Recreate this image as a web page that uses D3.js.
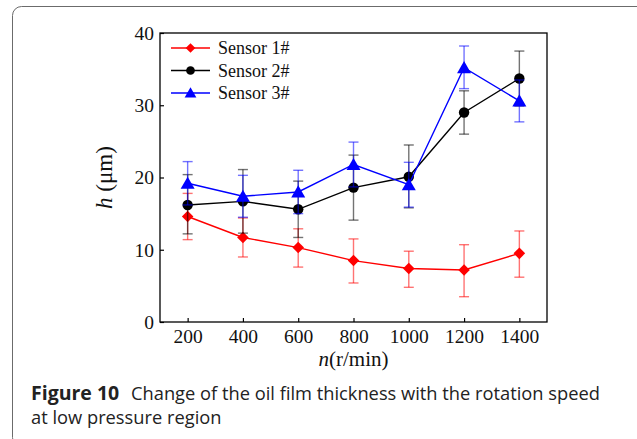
<!DOCTYPE html>
<html>
<head>
<meta charset="utf-8">
<script src="https://cdn.jsdelivr.net/npm/d3@7"></script>
<style>
  body { margin: 0; background: #fff; }
</style>
</head>
<body>
<div id="chart"></div>
<script>
const width = 637,
    height = 439
const margin = {
    top: 33,
    right: 90,
    bottom: 117,
    left: 160
}

// data
const speeds = [200, 400, 600, 800, 1000, 1200, 1400]
const sensor1 = [14.6, 11.7, 10.3, 8.5, 7.4, 7.2, 9.5]
const sensor1Hi = [17.8, 14.4, 12.9, 11.5, 9.8, 10.7, 12.6]
const sensor1Lo = [11.4, 9.0, 7.6, 5.4, 4.8, 3.5, 6.2]
const sensor2 = [16.2, 16.7, 15.6, 18.6, 20.1, 29.0, 33.7]
const sensor2Hi = [20.4, 21.1, 19.5, 23.1, 24.5, 32.0, 37.5]
const sensor2Lo = [12.2, 12.3, 11.7, 14.1, 15.8, 26.0, 29.9]
const sensor3 = [19.2, 17.4, 18.0, 21.8, 19.0, 35.2, 30.6]
const sensor3Hi = [22.2, 20.3, 21.0, 24.9, 22.1, 38.2, 33.5]
const sensor3Lo = [16.2, 14.5, 15.0, 18.7, 15.9, 32.3, 27.7]
const seriesNames = ['Sensor 1#', 'Sensor 2#', 'Sensor 3#']
const seriesColor = ['#ff0000', '#000000', '#0000ff']
const seriesShape = [d3.symbolDiamond2, d3.symbolCircle, d3.symbolTriangle]
const yTicks = [0, 10, 20, 30, 40]

const series = [
    {name: seriesNames[0], v: sensor1, hi: sensor1Hi, lo: sensor1Lo},
    {name: seriesNames[1], v: sensor2, hi: sensor2Hi, lo: sensor2Lo},
    {name: seriesNames[2], v: sensor3, hi: sensor3Hi, lo: sensor3Lo}
]

const svg = d3.select('#chart')
    .append('svg')
    .attr('width', width)
    .attr('height', height)

// card frame
svg.append('rect')
    .attr('x', 12.5).attr('y', 6.5)
    .attr('width', 640).attr('height', 440)
    .attr('rx', 9)
    .attr('fill', 'none')
    .attr('stroke', '#6b6b6b')
    .attr('stroke-width', 1)

const x = d3.scaleLinear()
    .domain([100, 1500])
    .range([margin.left, width - margin.right])

const y = d3.scaleLinear()
    .domain([0, 40])
    .range([height - margin.bottom, margin.top])

const serif = '"Liberation Serif", "Times New Roman", serif'

// plot frame
svg.append('rect')
    .attr('x', margin.left)
    .attr('y', margin.top)
    .attr('width', x.range()[1] - margin.left)
    .attr('height', y(0) - margin.top)
    .attr('fill', 'none')
    .attr('stroke', '#000')
    .attr('stroke-width', 1.3)

// ticks point inward, labels sit outside
const xAxis = svg.append('g')
    .attr('transform', 'translate(0,' + y(0) + ')')
    .call(d3.axisBottom(x).tickValues(speeds).tickFormat(d3.format('d')).tickSizeInner(-4).tickPadding(7))
xAxis.select('.domain').remove()

const yAxis = svg.append('g')
    .attr('transform', 'translate(' + margin.left + ',0)')
    .call(d3.axisLeft(y).tickValues(yTicks).tickSizeInner(-4).tickPadding(6))
yAxis.select('.domain').remove()

svg.selectAll('.tick text')
    .attr('font-family', serif)
    .attr('font-size', 19.5)
    .attr('fill', '#111')
svg.selectAll('.tick line').attr('stroke', '#000').attr('stroke-width', 1.2)

// axis titles
svg.append('text')
    .attr('transform', 'translate(112,' + ((margin.top + y(0)) / 2) + ') rotate(-90)')
    .attr('text-anchor', 'middle')
    .attr('font-family', serif)
    .attr('font-size', 23)
    .attr('fill', '#111')
    .html('<tspan font-style="italic">h</tspan> (μm)')

svg.append('text')
    .attr('x', (margin.left + x.range()[1]) / 2)
    .attr('y', 366)
    .attr('text-anchor', 'middle')
    .attr('font-family', serif)
    .attr('font-size', 21)
    .attr('fill', '#111')
    .html('<tspan font-style="italic">n</tspan>(r/min)')

const line = d3.line()
    .x(function (d, i) { return x(speeds[i]) })
    .y(function (d) { return y(d) })

const groups = svg.append('g').selectAll('g')
    .data(series)
    .enter().append('g')

// error bars
groups.each(function (s, k) {
    const g = d3.select(this)
    const c = seriesColor[k]
    speeds.forEach(function (sp, i) {
        const cx = x(sp)
        g.append('line')
            .attr('x1', cx).attr('x2', cx)
            .attr('y1', y(s.hi[i])).attr('y2', y(s.lo[i]))
            .attr('stroke', c).attr('stroke-opacity', 0.55).attr('stroke-width', 1.4)
        ;[s.hi[i], s.lo[i]].forEach(function (e) {
            g.append('line')
                .attr('x1', cx - 5).attr('x2', cx + 5)
                .attr('y1', y(e)).attr('y2', y(e))
                .attr('stroke', c).attr('stroke-opacity', 0.55).attr('stroke-width', 1.4)
        })
    })
})

groups.append('path')
    .attr('d', function (s) { return line(s.v) })
    .attr('fill', 'none')
    .attr('stroke', function (s, k) { return seriesColor[k] })
    .attr('stroke-width', 1.4)

groups.each(function (s, k) {
    const sym = d3.symbol().type(seriesShape[k]).size(k === 2 ? 85 : 85)
    d3.select(this).selectAll('path.pt')
        .data(s.v)
        .enter().append('path')
        .attr('class', 'pt')
        .attr('d', sym)
        .attr('transform', function (d, i) {
            return 'translate(' + x(speeds[i]) + ',' + (y(d) + (k === 2 ? 1.5 : 0)) + ')'
        })
        .attr('fill', seriesColor[k])
})

// legend
const legend = svg.append('g')
seriesNames.forEach(function (name, k) {
    const ly = 48 + k * 22.5
    legend.append('line')
        .attr('x1', 171).attr('x2', 210)
        .attr('y1', ly).attr('y2', ly)
        .attr('stroke', seriesColor[k]).attr('stroke-width', 1.4)
    legend.append('path')
        .attr('d', d3.symbol().type(seriesShape[k]).size(60))
        .attr('transform', 'translate(190.5,' + (ly + (k === 2 ? 1 : 0)) + ')')
        .attr('fill', seriesColor[k])
    legend.append('text')
        .attr('x', 218).attr('y', ly + 6)
        .attr('font-family', serif)
        .attr('font-size', 18)
        .attr('fill', '#111')
        .text(name)
})

// caption
const capFont = '"Open Sans", "Noto Sans", sans-serif'
svg.append('text')
    .attr('x', 31).attr('y', 400)
    .attr('font-family', capFont)
    .attr('font-size', 19.5)
    .attr('font-weight', 'bold')
    .attr('fill', '#222')
    .text('Figure 10')
svg.append('text')
    .attr('x', 131).attr('y', 400)
    .attr('font-family', capFont)
    .attr('font-size', 18.3)
    .attr('fill', '#222')
    .text('Change of the oil film thickness with the rotation speed')
svg.append('text')
    .attr('x', 31).attr('y', 424)
    .attr('font-family', capFont)
    .attr('font-size', 18.3)
    .attr('fill', '#222')
    .text('at low pressure region')
</script>
</body>
</html>
